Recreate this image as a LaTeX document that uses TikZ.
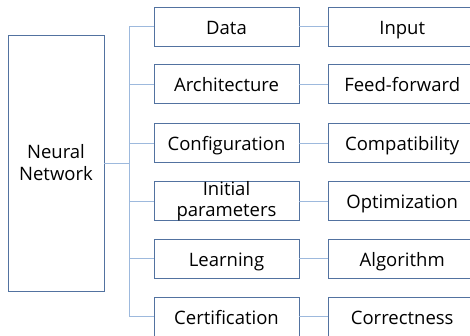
\documentclass[tikz,border=0pt]{standalone}
\usepackage{fontspec}
\setmainfont{Open Sans}
\usepackage{xcolor}
\usepackage{tikz}
\usetikzlibrary{positioning}

\definecolor{boxblue}{HTML}{5272A0}
\definecolor{linkblue}{HTML}{9DB9DD}

\begin{document}
\begin{tikzpicture}[x=1pt, y=-1pt,
  box/.style={draw=boxblue, line width=0.7pt, minimum width=145pt, minimum height=39pt,
    inner sep=0pt, align=center, font=\fontsize{18.5}{21}\selectfont},
  onebox/.style={text height=18.5pt, text depth=3pt},
  twobox/.style={},
  link/.style={draw=linkblue, line width=0.7pt}]
\useasboundingbox (0, 0) rectangle (470, 336);
\clip (0, 0) rectangle (470, 336);
\node[box, minimum width=96pt, minimum height=256pt, font=\fontsize{18.5}{22}\selectfont] (network) at (56, 163) {Neural\\Network};
\coordinate (bus) at (129, 163);
\draw[link] (network.east) -- (bus);
\foreach \name/\y/\topic/\item/\sty in {data/26.5/Data/Input/onebox, arch/84/Architecture/Feed-forward/onebox,
    config/143/Configuration/Compatibility/onebox, init/201/{Initial\\parameters}/Optimization/twobox,
    learn/258.5/Learning/Algorithm/onebox, cert/316.5/Certification/Correctness/onebox}
{
  \node[box, \sty] (\name) at (226.5, \y) {\topic};
  \node[box, onebox, minimum width=147pt, right=29pt of \name] (\name-r) {\item};
  \draw[link] (\name.west) -| (bus);
  \draw[link] (\name.east) -- (\name-r.west);
}
\end{tikzpicture}
\end{document}
